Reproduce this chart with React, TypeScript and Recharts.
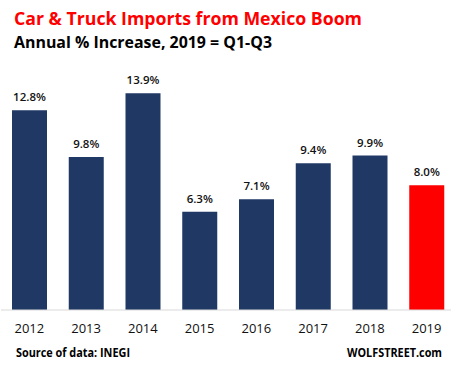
import React from "react";
import { BarChart, Bar, XAxis, YAxis, LabelList, Cell } from "recharts";

const years = ["2012", "2013", "2014", "2015", "2016", "2017", "2018", "2019"];
const increases = [12.8, 9.8, 13.9, 6.3, 7.1, 9.4, 9.9, 8.0];

const data = years.map((year, i) => ({ year, value: increases[i] }));

const NAVY = "#203864";
const RED = "#FF0000";
const FONT = "'Open Sans', sans-serif";

export default function App() {
  return (
    <div style={{ position: "absolute", left: 0, top: 0, width: 451, height: 373, overflow: "hidden", background: "#fff" }}>
      <div style={{ position: "absolute", left: 0, top: 0 }}>
        <BarChart width={455} height={373} data={data} margin={{ top: 60.4, right: 0, bottom: 0, left: 1 }}>
          <YAxis hide domain={[0, 16]} />
          <XAxis
            dataKey="year"
            height={63}
            tickSize={0}
            tickMargin={14}
            interval={0}
            axisLine={{ stroke: "#D9D9D9" }}
            tick={{ fontSize: 13, fill: "#111", fontFamily: FONT }}
          />
          <Bar dataKey="value" barSize={35} isAnimationActive={false}>
            {data.map((d, i) => (
              <Cell key={d.year} fill={i === data.length - 1 ? RED : NAVY} />
            ))}
            <LabelList
              dataKey="value"
              position="top"
              offset={9}
              formatter={(v: number) => v.toFixed(1) + "%"}
              style={{ fontSize: 11.5, fontWeight: 600, fill: "#111", fontFamily: FONT }}
            />
          </Bar>
        </BarChart>
      </div>
      <svg width={451} height={373} style={{ position: "absolute", left: 0, top: 0, pointerEvents: "none" }}>
        <text x={14} y={25} fill={RED} fontFamily={FONT} fontWeight="bold" fontSize={17.5} textLength={348} lengthAdjust="spacingAndGlyphs">
          Car &amp; Truck Imports from Mexico Boom
        </text>
        <text x={14} y={48.3} fill="#000" fontFamily={FONT} fontWeight="bold" fontSize={15.2} textLength={258} lengthAdjust="spacingAndGlyphs">
          Annual % Increase, 2019 = Q1-Q3
        </text>
        <text x={16} y={357} fill="#000" fontFamily={FONT} fontWeight="bold" fontSize={11.5} textLength={114} lengthAdjust="spacingAndGlyphs">
          Source of data: INEGI
        </text>
        <text x={347} y={357} fill="#000" fontFamily={FONT} fontWeight="bold" fontSize={11.5} textLength={95} lengthAdjust="spacingAndGlyphs">
          WOLFSTREET.com
        </text>
      </svg>
    </div>
  );
}
